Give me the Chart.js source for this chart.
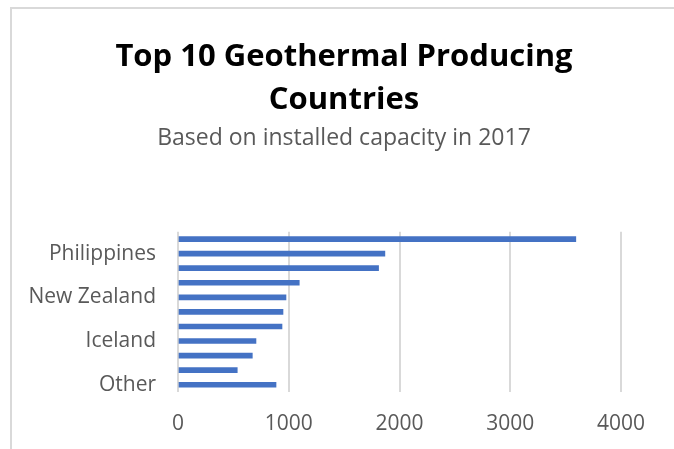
<!DOCTYPE html>
<html>
<head>
<meta charset="utf-8">
<script src="https://cdn.jsdelivr.net/npm/chart.js@4/dist/chart.umd.min.js"></script>
<style>
  html, body { margin: 0; padding: 0; background: #ffffff; }
  #wrap { position: relative; width: 674px; height: 449px; overflow: hidden; background: #fff; }
  #frame { position: absolute; left: 10px; top: 7px; width: 700px; height: 500px; border-left: 2px solid #d9d9d9; border-top: 2px solid #d9d9d9; box-sizing: border-box; }
  canvas { position: absolute; left: 0; top: 0; }
</style>
</head>
<body>
<div id="wrap">
  <div id="frame"></div>
  <canvas id="c" width="674" height="449"></canvas>
</div>
<script>
const titleLines = ['Top 10 Geothermal Producing', 'Countries'];
const subtitleText = 'Based on installed capacity in 2017';
const countries = ['United States', 'Philippines', 'Indonesia', 'Turkey', 'New Zealand', 'Mexico', 'Italy', 'Iceland', 'Kenya', 'Japan', 'Other'];
const capacityMW = [3592, 1868, 1811, 1095, 975, 948, 939, 704, 671, 535, 885];
const shownLabelIndexes = [1, 4, 7, 10];
const xTicks = [0, 1000, 2000, 3000, 4000];

const FONT = '"Open Sans", Lato, sans-serif';

// centre the title blocks over the whole frame rather than the padded area
const centreTitles = {
  id: 'centreTitles',
  afterLayout(chart) {
    chart.boxes.forEach(b => {
      if (typeof b._drawArgs === 'function' && b.options && b.options.position === 'top') {
        b.left = 0;
        b.right = 688;
      }
    });
  }
};

new Chart(document.getElementById('c'), {
  type: 'bar',
  data: {
    labels: countries,
    datasets: [{
      data: capacityMW,
      backgroundColor: '#4472C4',
      borderWidth: 0,
      barThickness: 5
    }]
  },
  options: {
    indexAxis: 'y',
    responsive: false,
    animation: false,
    layout: { padding: { left: 0, right: 53, top: 0, bottom: 0 } },
    plugins: {
      legend: { display: false },
      tooltip: { enabled: false },
      title: {
        display: true,
        text: titleLines,
        color: '#000000',
        font: { family: FONT, size: 31, weight: 'bold', lineHeight: 1.39 },
        padding: { top: 36, bottom: 0 }
      },
      subtitle: {
        display: true,
        text: subtitleText,
        color: '#595959',
        font: { family: FONT, size: 23, lineHeight: 1.2 },
        padding: { top: 2, bottom: 80 }
      }
    },
    scales: {
      x: {
        min: 0,
        max: 4000,
        afterBuildTicks: (scale) => { scale.ticks = xTicks.map(v => ({ value: v })); },
        ticks: {
          color: '#595959', font: { family: FONT, size: 21 }, padding: 19, maxRotation: 0,
          callback: (v) => String(v)
        },
        grid: { color: '#d9d9d9', lineWidth: 2, drawTicks: false },
        border: { display: false },
        afterFit: (scale) => { scale.height = 57; }
      },
      y: {
        ticks: {
          autoSkip: false,
          color: '#595959',
          font: { family: FONT, size: 21 },
          padding: 22,
          callback: function (value, index) {
            return shownLabelIndexes.includes(index) ? countries[index] : '';
          }
        },
        grid: { display: false, drawTicks: false },
        border: { display: false },
        afterFit: (scale) => { scale.width = 178; }
      }
    }
  },
  plugins: [centreTitles]
});
</script>
</body>
</html>
